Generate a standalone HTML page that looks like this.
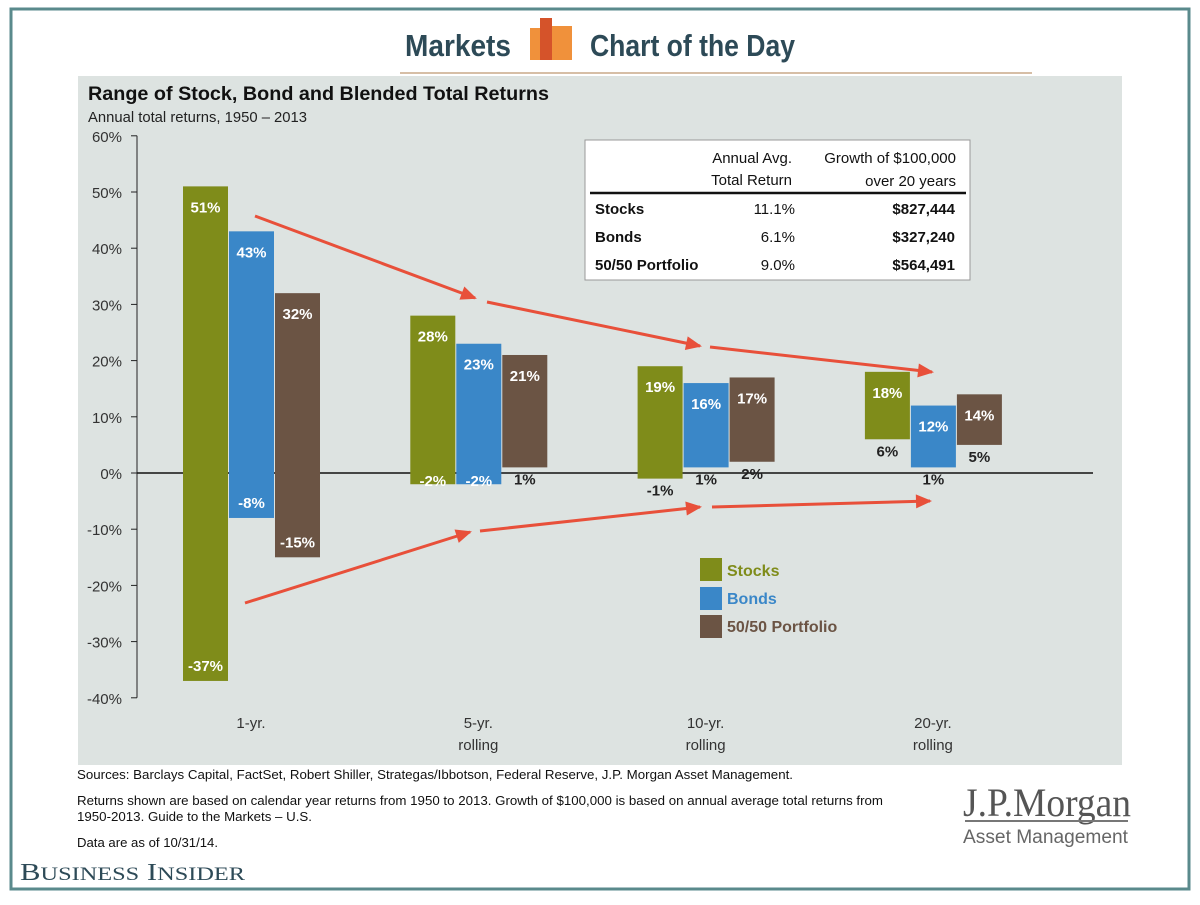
<!DOCTYPE html>
<html><head><meta charset="utf-8"><style>
body{margin:0;background:#fff;font-family:"Liberation Sans",sans-serif}
</style></head><body>
<svg width="1200" height="900" font-family="Liberation Sans, sans-serif" xmlns="http://www.w3.org/2000/svg">
<rect x="11" y="9" width="1178" height="880" fill="#fff" stroke="#5a8a8c" stroke-width="3"/>
<g>
<text x="405" y="56" font-size="31" font-weight="bold" fill="#2d4a57" textLength="106" lengthAdjust="spacingAndGlyphs">Markets</text>
<rect x="530" y="28" width="13" height="32" fill="#f0913b"/><rect x="540" y="18" width="12" height="42" fill="#d5532a"/><rect x="552" y="26" width="20" height="34" fill="#f0913b"/>
<text x="590" y="56" font-size="31" font-weight="bold" fill="#2d4a57" textLength="205" lengthAdjust="spacingAndGlyphs">Chart of the Day</text>
<line x1="400" y1="73" x2="1032" y2="73" stroke="#c9a888" stroke-width="1.5"/>
</g>
<rect x="78" y="76" width="1044" height="689" fill="#dde3e1"/>
<text x="88" y="100" font-size="19" font-weight="bold" fill="#111" textLength="461" lengthAdjust="spacingAndGlyphs">Range of Stock, Bond and Blended Total Returns</text>
<text x="88" y="122" font-size="15" fill="#222" textLength="219" lengthAdjust="spacingAndGlyphs">Annual total returns, 1950 – 2013</text>
<g id="plot"></g>
<g>
<rect x="585" y="140" width="385" height="140" fill="#fff" stroke="#999"/>
<text x="792" y="163" font-size="15" text-anchor="end" fill="#111">Annual Avg.</text>
<text x="792" y="185" font-size="15" text-anchor="end" fill="#111">Total Return</text>
<text x="956" y="163" font-size="15" text-anchor="end" fill="#111">Growth of $100,000</text>
<text x="956" y="186" font-size="15" text-anchor="end" fill="#111">over 20 years</text>
<line x1="590" y1="193" x2="966" y2="193" stroke="#111" stroke-width="2.5"/>
<text x="595" y="214" font-size="15" font-weight="bold" fill="#111">Stocks</text><text x="795" y="214" font-size="15" text-anchor="end" fill="#111">11.1%</text><text x="955" y="214" font-size="15" font-weight="bold" text-anchor="end" fill="#111">$827,444</text>
<text x="595" y="242" font-size="15" font-weight="bold" fill="#111">Bonds</text><text x="795" y="242" font-size="15" text-anchor="end" fill="#111">6.1%</text><text x="955" y="242" font-size="15" font-weight="bold" text-anchor="end" fill="#111">$327,240</text>
<text x="595" y="270" font-size="15" font-weight="bold" fill="#111">50/50 Portfolio</text><text x="795" y="270" font-size="15" text-anchor="end" fill="#111">9.0%</text><text x="955" y="270" font-size="15" font-weight="bold" text-anchor="end" fill="#111">$564,491</text>
</g>
<g>
<rect x="700" y="558" width="22" height="23" fill="#7f8c1a"/><text x="727" y="576" font-size="16" font-weight="bold" fill="#7f8c1a">Stocks</text>
<rect x="700" y="587" width="22" height="23" fill="#3a87c8"/><text x="727" y="604" font-size="16" font-weight="bold" fill="#3a87c8">Bonds</text>
<rect x="700" y="615" width="22" height="23" fill="#6b5444"/><text x="727" y="632" font-size="16" font-weight="bold" fill="#6b5444">50/50 Portfolio</text>
</g>
<g font-size="12.5" fill="#111">
<text x="77" y="779" textLength="716" lengthAdjust="spacingAndGlyphs">Sources: Barclays Capital, FactSet, Robert Shiller, Strategas/Ibbotson, Federal Reserve, J.P. Morgan Asset Management.</text>
<text x="77" y="805" textLength="806" lengthAdjust="spacingAndGlyphs">Returns shown are based on calendar year returns from 1950 to 2013. Growth of $100,000 is based on annual average total returns from</text>
<text x="77" y="821" textLength="235" lengthAdjust="spacingAndGlyphs">1950-2013. Guide to the Markets – U.S.</text>
<text x="77" y="847" textLength="141" lengthAdjust="spacingAndGlyphs">Data are as of 10/31/14.</text>
</g>
<g>
<text x="963" y="816" font-family="Liberation Serif, serif" font-size="40" fill="#555" textLength="168" lengthAdjust="spacingAndGlyphs">J.P.Morgan</text>
<line x1="965" y1="821" x2="1128" y2="821" stroke="#777" stroke-width="2"/>
<text x="963" y="843" font-size="19" fill="#666" textLength="165" lengthAdjust="spacingAndGlyphs">Asset Management</text>
</g>
<text x="20" y="880" font-family="Liberation Serif, serif" font-size="24" fill="#2d4a57" textLength="225" lengthAdjust="spacingAndGlyphs">B<tspan font-size="19">USINESS</tspan> I<tspan font-size="19">NSIDER</tspan></text>
</svg>
<script>
const categories=["1-yr.","5-yr.","10-yr.","20-yr."];
const categorySub=["","rolling","rolling","rolling"];
const stocksHigh=[51,28,19,18], stocksLow=[-37,-2,-1,6];
const bondsHigh=[43,23,16,12], bondsLow=[-8,-2,1,1];
const portHigh=[32,21,17,14], portLow=[-15,1,2,5];
const yTicks=[60,50,40,30,20,10,0,-10,-20,-30,-40];
const NS="http://www.w3.org/2000/svg";
const g=document.getElementById('plot');
const y=v=>473-v*5.62;
const groupX=i=>183+i*227.3;
function mk(t,a,p){const e=document.createElementNS(NS,t);for(const k in a)e.setAttribute(k,a[k]);(p||g).appendChild(e);return e;}
const ax=mk('line',{x1:137,y1:y(60),x2:137,y2:y(-40),stroke:'#222'});


yTicks.forEach(v=>{mk('line',{x1:131,x2:137,y1:y(v),y2:y(v),stroke:'#222'});
const t=mk('text',{x:122,y:y(v)+6,'font-size':15,'text-anchor':'end',fill:'#333'});t.textContent=v+'%';

});
const zl=mk('line',{x1:137,x2:1093,y1:y(0),y2:y(0),stroke:'#111','stroke-width':1.5});


const series=[["stocks",stocksHigh,stocksLow,"#7f8c1a"],["bonds",bondsHigh,bondsLow,"#3a87c8"],["portfolio",portHigh,portLow,"#6b5444"]];
categories.forEach((c,i)=>{
 series.forEach((s,j)=>{
  const x=groupX(i)+j*46, hi=s[1][i], lo=s[2][i], top=y(hi), bot=y(lo);
  const r=mk('rect',{x:x,y:top,width:45,height:bot-top,fill:s[3]});
  
  
  const t1=mk('text',{x:x+22.5,y:top+26,'font-size':15,'font-weight':'bold',fill:'#fff','text-anchor':'middle'});t1.textContent=hi+'%';
  
  
  let by,col;
  if(lo<=-5){by=bot-10;col='#fff';}else if(lo<=-2){by=bot+2;col='#fff';}else{by=bot+17;col='#222';}
  const t2=mk('text',{x:x+22.5,y:by,'font-size':15,'font-weight':'bold',fill:col,'text-anchor':'middle'});t2.textContent=lo+'%';
  
  
 });
 const cx=groupX(i)+68;
 const l=mk('text',{x:cx,y:728,'font-size':15,fill:'#333','text-anchor':'middle'});l.textContent=c;
 
 
 if(categorySub[i]){const l2=mk('text',{x:cx,y:750,'font-size':15,fill:'#333','text-anchor':'middle'});l2.textContent=categorySub[i];}
});
const arrows=[[255,216,475,298],[487,302,700,346],[710,347,932,372],[245,603,470,532],[480,531,700,507],[712,507,930,501]];
arrows.forEach(a=>{
 const l=mk('line',{x1:a[0],y1:a[1],x2:a[2],y2:a[3],stroke:'#e8503a','stroke-width':3});
 
 
 const ang=Math.atan2(a[3]-a[1],a[2]-a[0]),L=14,W=7;
 const bx=a[2]-L*Math.cos(ang),by=a[3]-L*Math.sin(ang);
 mk('polygon',{points:`${a[2]+2*Math.cos(ang)},${a[3]+2*Math.sin(ang)} ${bx-W*Math.sin(ang)},${by+W*Math.cos(ang)} ${bx+W*Math.sin(ang)},${by-W*Math.cos(ang)}`,fill:'#e8503a'});
});
</script>
</body></html>
